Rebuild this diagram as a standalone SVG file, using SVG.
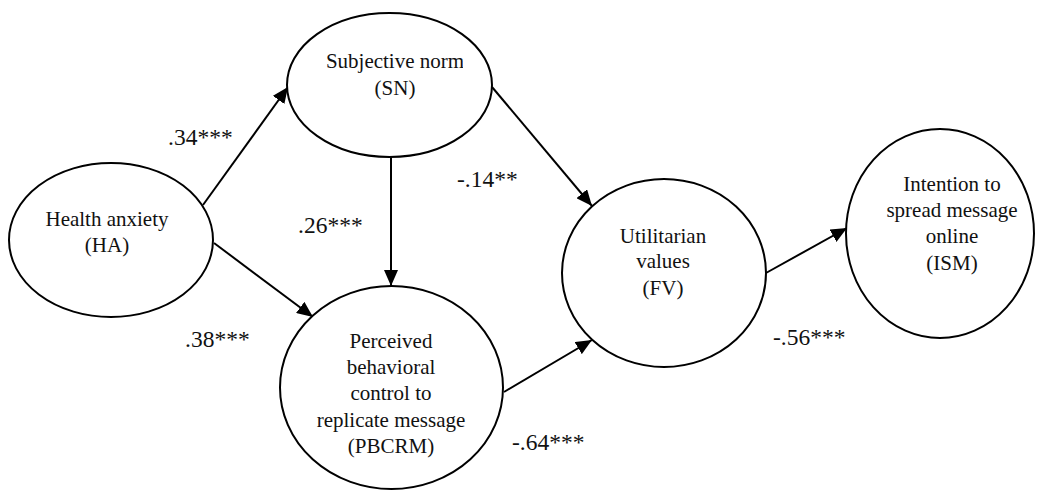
<svg xmlns="http://www.w3.org/2000/svg" width="1040" height="492" viewBox="0 0 1040 492">
<style>
.node{fill:#fff;stroke:#000;stroke-width:2}
text{font-family:'Liberation Serif',Tinos,'Times New Roman','DejaVu Serif',serif;fill:#111}
.t{text-anchor:middle;font-size:21px}
.lbl{font-size:23.5px}
.edge{stroke:#000;stroke-width:2;fill:none;marker-end:url(#arr)}
</style>
<defs>
<marker id="arr" markerUnits="userSpaceOnUse" markerWidth="18" markerHeight="14" refX="16" refY="7" orient="auto">
<path d="M0,0 L16,7 L0,14 z" fill="#000"/>
</marker>
<clipPath id="snclip"><rect x="280" y="40" width="183" height="70"/></clipPath>
</defs>
<rect width="1040" height="492" fill="#fff"/>
<g id="connectors">
<line class="edge" x1="203" y1="205" x2="288" y2="87"/>
<line class="edge" x1="214" y1="243" x2="313" y2="317"/>
<line class="edge" x1="391" y1="157" x2="391" y2="286"/>
<line class="edge" x1="492" y1="87" x2="592" y2="206"/>
<line class="edge" x1="504" y1="392" x2="592" y2="340"/>
<line class="edge" x1="766" y1="273" x2="847" y2="228"/>
<text class="lbl" x="168" y="145">.34***</text>
<text class="lbl" x="298" y="233">.26***</text>
<text class="lbl" x="457" y="187">-.14**</text>
<text class="lbl" x="185" y="347">.38***</text>
<text class="lbl" x="512" y="450">-.64***</text>
<text class="lbl" x="773" y="345">-.56***</text>
</g>
<g id="HA">
<ellipse class="node" cx="111" cy="240" rx="102" ry="77"/>
<text class="t" x="107" y="226">Health anxiety</text>
<text class="t" x="107" y="252">(HA)</text>
</g>
<g id="SN">
<ellipse class="node" cx="389.5" cy="85" rx="102.5" ry="72"/>
<text class="t" x="395" y="68" clip-path="url(#snclip)">Subjective norm</text>
<text class="t" x="395" y="95">(SN)</text>
</g>
<g id="PBCRM">
<ellipse class="node" cx="391.5" cy="387.5" rx="111.5" ry="101.5"/>
<text class="t" x="391" y="348">Perceived</text>
<text class="t" x="391" y="374">behavioral</text>
<text class="t" x="391" y="400">control to</text>
<text class="t" x="391" y="427">replicate message</text>
<text class="t" x="391" y="453">(PBCRM)</text>
</g>
<g id="FV">
<ellipse class="node" cx="664" cy="273" rx="102" ry="94"/>
<text class="t" x="663" y="243">Utilitarian</text>
<text class="t" x="663" y="268">values</text>
<text class="t" x="663" y="295">(FV)</text>
</g>
<g id="ISM">
<ellipse class="node" cx="940" cy="233.5" rx="94" ry="104.5"/>
<text class="t" x="952" y="191">Intention to</text>
<text class="t" x="952" y="217">spread message</text>
<text class="t" x="952" y="243">online</text>
<text class="t" x="952" y="270">(ISM)</text>
</g>
</svg>
